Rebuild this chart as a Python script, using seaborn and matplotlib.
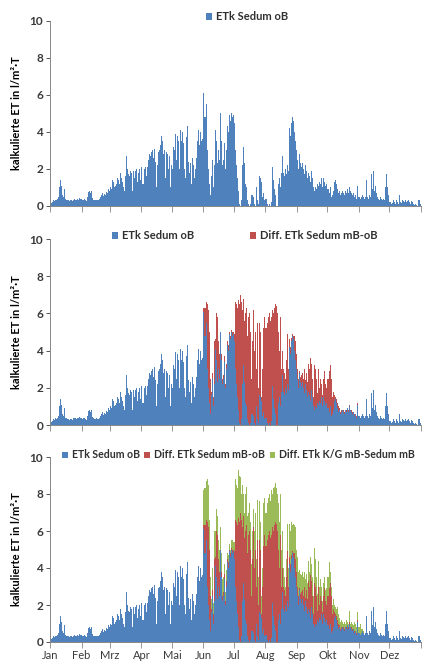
import numpy as np
import pandas as pd
import matplotlib
matplotlib.use("Agg")
import matplotlib.pyplot as plt
from matplotlib.patches import Patch
import seaborn as sns

sns.set_style("white")
plt.rcParams['font.family'] = ['Lato', 'DejaVu Sans']

# ---------------- data (daily values, l/m²·T) ----------------
months = ["Jan", "Feb", "Mrz", "Apr", "Mai", "Jun", "Jul", "Aug", "Sep", "Okt", "Nov", "Dez"]
month_days = [31, 28, 31, 30, 31, 30, 31, 31, 30, 31, 30, 31]

etk_oB_jan = [0.1, 0.15, 0.2, 0.3, 0.25, 0.35, 0.3, 0.4, 0.5, 1.0, 1.4, 1.1, 0.6, 0.5, 0.9, 0.4,
              0.35, 0.3, 0.3, 0.25, 0.3, 0.3, 0.25, 0.35, 0.4, 0.35, 0.3, 0.4, 0.35, 0.45, 0.4]
etk_oB_feb = [0.3, 0.35, 0.4, 0.3, 0.25, 0.5, 0.75, 0.8, 0.7, 0.8, 0.45, 0.35, 0.3, 0.3, 0.35,
              0.3, 0.3, 0.4, 0.5, 0.6, 0.7, 0.55, 0.65, 0.6, 0.75, 0.7, 0.9, 0.8]
etk_oB_mar = [1.0, 0.9, 1.4, 1.3, 1.0, 1.1, 1.2, 1.5, 1.4, 1.2, 1.8, 1.5, 1.3, 1.0, 0.8, 1.6,
              2.7, 2.0, 1.7, 1.6, 1.9, 1.8, 0.8, 1.9, 1.5, 1.9, 2.0, 1.3, 1.8, 2.0, 1.4]
etk_oB_apr = [2.1, 1.2, 2.0, 2.1, 1.6, 2.1, 2.5, 2.8, 2.7, 2.9, 3.0, 2.6, 3.1, 2.4, 1.0, 2.2,
              2.9, 3.0, 3.3, 3.8, 3.5, 2.8, 3.0, 1.5, 2.9, 2.8, 2.0, 2.7, 1.0, 2.2]
etk_oB_may = [2.0, 3.2, 3.0, 3.9, 2.5, 3.8, 3.5, 2.0, 4.1, 3.5, 4.0, 3.4, 2.0, 1.5, 3.7, 4.3,
              2.4, 1.8, 2.3, 1.2, 2.6, 2.2, 1.5, 2.0, 2.6, 3.5, 4.1, 3.3, 4.0, 3.5, 3.6]
etk_oB_jun = [6.1, 4.8, 5.5, 3.0, 2.0, 1.2, 0.6, 1.6, 2.5, 1.0, 2.2, 4.1, 3.5, 2.3, 3.0, 2.5,
              5.0, 3.5, 2.2, 2.5, 3.4, 2.0, 3.0, 4.3, 4.0, 4.9, 4.6, 5.0, 4.8, 4.9]
etk_oB_jul = [4.5, 3.0, 2.2, 1.5, 0.8, 0.1, 0.0, 0.3, 2.2, 3.2, 2.3, 1.2, 1.0, 0.3, 0.1, 0.0,
              0.1, 0.6, 0.6, 0.5, 0.1, 0.0, 1.0, 0.3, 0.1, 1.6, 1.5, 1.3, 0.5, 0.7, 0.3]
etk_oB_aug = [0.4, 0.1, 0.0, 0.1, 0.0, 0.2, 2.1, 1.4, 0.9, 0.6, 0.0, 0.0, 1.2, 1.5, 1.0, 1.8,
              2.7, 1.8, 1.6, 2.0, 1.7, 2.2, 1.9, 4.2, 3.8, 4.5, 4.8, 4.6, 4.0, 3.5, 3.0]
etk_oB_sep = [2.5, 2.0, 2.8, 2.3, 2.1, 2.3, 2.0, 1.7, 2.2, 1.9, 1.5, 1.8, 1.6, 1.3, 1.9, 1.5,
              1.0, 0.8, 1.0, 0.9, 1.2, 1.1, 1.3, 1.2, 1.5, 1.0, 1.5, 1.3, 1.1, 1.2]
etk_oB_oct = [0.9, 0.7, 1.0, 0.5, 0.6, 0.8, 1.3, 1.4, 1.2, 0.9, 0.7, 0.8, 0.6, 0.7, 0.8, 0.7,
              0.6, 0.8, 0.7, 0.9, 0.7, 1.0, 0.8, 0.7, 0.6, 0.7, 0.5, 0.6, 0.4, 1.1, 0.5]
etk_oB_nov = [0.5, 0.4, 0.5, 0.6, 0.5, 0.4, 0.5, 1.4, 0.5, 0.4, 0.6, 0.5, 1.7, 0.9, 1.9, 0.8,
              1.1, 0.7, 0.5, 0.4, 0.3, 0.5, 0.4, 0.3, 0.4, 0.3, 1.0, 1.7, 1.0, 0.6]
etk_oB_dec = [0.2, 0.1, 0.15, 0.3, 0.2, 0.1, 0.3, 0.2, 0.1, 0.6, 0.2, 0.15, 0.3, 0.25, 0.2, 0.3,
              0.2, 0.25, 0.3, 0.2, 0.1, 0.25, 0.2, 0.1, 0.05, 0.1, 0.05, 0.0, 0.3, 0.3, 0.1]

# Diff. ETk Sedum mB-oB (zero outside Jun-Okt)
diff_mB_jun = [0.2, 1.5, 1.1, 3.5, 4.2, 3.8, 1.9, 0.2, 0.3, 0.5, 2.3, 0.5, 2.5, 3.5, 1.5, 1.3,
               0.0, 0.3, 0.3, 0.2, 0.3, 0.2, 0.3, 0.2, 0.3, 0.1, 0.2, 0.1, 0.2, 0.1]
diff_mB_jul = [0.4, 3.6, 4.3, 4.8, 5.9, 6.4, 7.0, 6.3, 4.0, 3.6, 3.3, 4.8, 5.3, 4.5, 5.7, 6.0,
               4.9, 1.9, 3.9, 5.7, 3.9, 5.0, 2.0, 5.2, 1.9, 3.9, 3.5, 0.2, 2.5, 4.5, 5.5]
diff_mB_aug = [4.8, 5.4, 5.8, 5.9, 5.6, 5.6, 4.1, 4.6, 5.4, 5.9, 6.4, 6.0, 3.8, 2.5, 4.8, 1.2,
               1.3, 1.2, 1.2, 0.5, 1.8, 2.7, 1.1, 0.4, 0.4, 0.2, 0.1, 0.2, 0.8, 1.0, 0.8]
diff_mB_sep = [0.5, 0.5, 0.1, 0.3, 0.6, 0.5, 0.5, 1.3, 0.2, 0.9, 0.8, 1.5, 1.4, 2.3, 1.4, 1.0,
               0.5, 2.4, 2.0, 1.6, 0.5, 1.9, 0.7, 1.3, 0.7, 0.6, 1.0, 1.6, 1.1, 0.8]
diff_mB_oct = [1.6, 2.2, 2.2, 2.0, 0.9, 1.0, 0.3, 0.1, 0.2, 0.3, 0.3, 0.1, 0.1, 0.1, 0.0, 0.1,
               0.1, 0.0, 0.1, 0.0, 0.1, 0.1, 0.0, 0.1, 0.1, 0.0, 0.1, 0.0, 0.1, 0.1, 0.0]

# Diff. ETk K/G mB-Sedum mB (zero outside Jun-early Nov)
diff_KG_jun = [1.9, 2.0, 2.1, 2.3, 2.3, 1.6, 1.0, 0.5, 1.2, 0.6, 1.5, 1.4, 1.2, 1.0, 1.0, 1.2,
               1.2, 1.0, 0.9, 0.8, 0.5, 0.5, 0.6, 0.3, 0.4, 0.3, 0.2, 0.4, 0.5, 0.4]
diff_KG_jul = [0.5, 2.2, 2.0, 2.0, 2.6, 2.5, 1.9, 1.4, 2.3, 1.2, 1.4, 2.0, 2.1, 2.0, 1.2, 1.5,
               1.5, 1.7, 1.5, 1.0, 2.0, 2.0, 1.5, 2.2, 1.5, 2.1, 1.5, 1.0, 1.0, 2.3, 2.0]
diff_KG_aug = [1.8, 2.0, 2.0, 2.0, 2.0, 2.4, 1.8, 2.3, 2.1, 2.1, 1.9, 2.0, 2.5, 2.5, 2.2, 2.0,
               2.0, 1.0, 0.7, 0.5, 1.0, 1.5, 1.0, 1.8, 1.8, 1.8, 1.4, 1.6, 1.5, 1.7, 1.2]
diff_KG_sep = [1.6, 1.3, 1.0, 1.1, 0.9, 1.0, 1.0, 0.8, 1.0, 0.9, 0.9, 1.1, 0.8, 1.0, 0.9, 1.0,
               1.0, 1.9, 1.5, 1.0, 0.9, 1.4, 1.0, 0.9, 0.8, 0.6, 0.7, 0.6, 0.6, 0.9]
diff_KG_oct = [1.0, 1.4, 0.6, 0.5, 0.5, 0.5, 0.4, 0.4, 0.4, 0.7, 0.5, 0.4, 0.4, 0.4, 0.3, 0.2,
               0.4, 0.2, 0.4, 0.2, 0.2, 0.6, 0.2, 0.3, 0.3, 0.2, 0.5, 0.4, 0.3, 0.4, 0.3]
diff_KG_nov_start = [0.3, 0.6, 0.2, 0.1, 0.1]

labels = ["ETk Sedum oB", "Diff. ETk Sedum mB-oB", "Diff. ETk K/G mB-Sedum mB"]
colors = ["#4F81BD", "#C0504D", "#9BBB59"]

# ---------------- assemble ----------------
etk_oB = np.array(etk_oB_jan + etk_oB_feb + etk_oB_mar + etk_oB_apr + etk_oB_may + etk_oB_jun
                  + etk_oB_jul + etk_oB_aug + etk_oB_sep + etk_oB_oct + etk_oB_nov + etk_oB_dec)
n_days = len(etk_oB)
month_start = np.concatenate([[0], np.cumsum(month_days)])
jun0 = month_start[5]

diff_mB = np.zeros(n_days)
vals = diff_mB_jun + diff_mB_jul + diff_mB_aug + diff_mB_sep + diff_mB_oct
diff_mB[jun0:jun0 + len(vals)] = vals
diff_KG = np.zeros(n_days)
vals = diff_KG_jun + diff_KG_jul + diff_KG_aug + diff_KG_sep + diff_KG_oct + diff_KG_nov_start
diff_KG[jun0:jun0 + len(vals)] = vals

days = np.arange(n_days)
df = pd.DataFrame({"day": days,
                   "s1": etk_oB,
                   "s2": etk_oB + diff_mB,
                   "s3": etk_oB + diff_mB + diff_KG})

# ---------------- figure ----------------
W, H = 433, 661
fig = plt.figure(figsize=(W / 100, H / 100), dpi=100)

def px_axes(x0, x1, ytop, ybot):
    return fig.add_axes([x0 / W, 1 - ybot / H, (x1 - x0) / W, (ybot - ytop) / H])

panels = [(20.7, 206, 1), (239, 425, 2), (457, 642, 3)]
tick_col = "#3a3a3a"
axes = []
for ytop, ybot, nser in panels:
    ax = px_axes(50, 421, ytop, ybot)
    cols = ["s1", "s2", "s3"][:nser]
    for k in reversed(range(nser)):
        sns.barplot(data=df, x="day", y=cols[k], native_scale=True, width=1.0,
                    color=colors[k], saturation=1, errorbar=None, linewidth=0,
                    ax=ax)
    ax.set_xlim(-0.5, n_days - 0.5)
    ax.set_ylim(0, 10)
    ax.set_yticks([0, 2, 4, 6, 8, 10])
    ax.set_xticks(month_start - 0.5)
    ax.set_xticklabels([])
    ax.set_xlabel("")
    ax.set_ylabel("kalkulierte ET in l/m²·T", fontsize=8, fontweight="bold", labelpad=5)
    ax.tick_params(axis="y", labelsize=8.5, colors=tick_col, length=3, width=0.6, pad=2,
                   left=True)
    for t in ax.get_yticklabels():
        t.set_fontweight("bold")
    ax.tick_params(axis="x", length=4, width=0.6, bottom=True, color="#868686")
    for s in ["top", "right"]:
        ax.spines[s].set_visible(False)
    for s in ["left", "bottom"]:
        ax.spines[s].set_color("#868686")
        ax.spines[s].set_linewidth(0.7)
    ax.yaxis.label.set_color("black")
    ax.set_facecolor("none")
    axes.append(ax)

# month labels in the bottom panel
ax3 = axes[2]
ax3.set_xticks(month_start - 0.5)
ax3.set_xticklabels(months + [""], fontsize=8, color=tick_col)
ax3.tick_params(axis="x", pad=2)

# legends
def handles(n):
    return [Patch(facecolor=colors[i], edgecolor="none", label=labels[i]) for i in range(n)]

leg_kw = dict(frameon=False, handlelength=0.55, handleheight=0.55,
              handletextpad=0.35, borderaxespad=0, borderpad=0)
fig.legend(handles=handles(1), loc="center left", prop={"size": 8, "weight": "bold"},
           bbox_to_anchor=(206 / W, 1 - 17 / H), **leg_kw)
fig.legend(handles=handles(2), loc="center left", ncol=2, columnspacing=5.0,
           prop={"size": 8, "weight": "bold"},
           bbox_to_anchor=(112 / W, 1 - 236 / H), **leg_kw)
fig.legend(handles=handles(3), loc="center left", ncol=3, columnspacing=0.45,
           prop={"size": 7.6, "weight": "bold"},
           bbox_to_anchor=(62 / W, 1 - 455 / H), **leg_kw)
for lg in fig.legends:
    for t in lg.get_texts():
        t.set_color("#303030")

fig.savefig("out.png", dpi=100)
